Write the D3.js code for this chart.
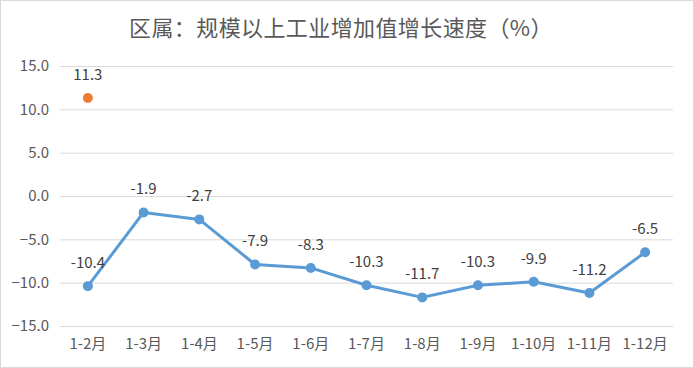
<!DOCTYPE html>
<html><head><meta charset="utf-8">
<script src="https://cdn.jsdelivr.net/npm/d3@7"></script>
<style>body{margin:0;background:#fff}svg{display:block}</style>
</head><body>
<svg id="c" width="694" height="368"></svg>
<script>
const categories = ["1-2月","1-3月","1-4月","1-5月","1-6月","1-7月","1-8月","1-9月","1-10月","1-11月","1-12月"];
const growth = [-10.4,-1.9,-2.7,-7.9,-8.3,-10.3,-11.7,-10.3,-9.9,-11.2,-6.5];
const extraCategory = ["1-2月"];
const extraValue = [11.3];
const yTicks = [15,10,5,0,-5,-10,-15];
const title = "区属：规模以上工业增加值增长速度（%）";

const svg = d3.select("#c");
const font = "'Microsoft YaHei','Noto Sans CJK SC','Noto Sans',sans-serif";
svg.append("rect").attr("x",0.5).attr("y",0.5).attr("width",693).attr("height",367)
  .attr("fill","#fff").attr("stroke","#d9d9d9");

const x = d3.scaleBand().domain(categories).range([60,673]);
const y = d3.scaleLinear().domain([-15,15]).range([326,66]);

svg.append("text").attr("x",341).attr("y",36).attr("text-anchor","middle")
  .attr("font-family",font).attr("font-size",22).attr("letter-spacing",0.4)
  .attr("fill","#595959").text(title);

const yAxis = svg.append("g").attr("transform","translate(60,0)")
  .call(d3.axisLeft(y).tickValues(yTicks).tickSize(-613).tickFormat(d3.format(".1f")));
yAxis.select(".domain").remove();
yAxis.selectAll("line").attr("stroke","#d9d9d9");
yAxis.selectAll("text").attr("x",-11).attr("font-family",font).attr("font-size",15).attr("fill","#595959");

const xAxis = svg.append("g").attr("transform","translate(0,326)")
  .call(d3.axisBottom(x).tickSize(0).tickPadding(12));
xAxis.select(".domain").attr("stroke","#d9d9d9");
xAxis.selectAll("text").attr("font-family",font).attr("font-size",15).attr("fill","#595959");

const cx = d => x(d) + x.bandwidth()/2;
const line = d3.line().x((d,i)=>cx(categories[i])).y(d=>y(d));
svg.append("path").datum(growth).attr("d",line).attr("fill","none")
  .attr("stroke","#5B9BD5").attr("stroke-width",3).attr("stroke-linejoin","round");
svg.selectAll("circle.g").data(growth).enter().append("circle")
  .attr("cx",(d,i)=>cx(categories[i])).attr("cy",d=>y(d)).attr("r",5).attr("fill","#5B9BD5");
svg.selectAll("text.g").data(growth).enter().append("text")
  .attr("x",(d,i)=>cx(categories[i])).attr("y",d=>y(d)-18).attr("text-anchor","middle")
  .attr("font-family",font).attr("font-size",15).attr("fill","#404040").text(d=>d.toFixed(1));

svg.selectAll("circle.e").data(extraValue).enter().append("circle")
  .attr("cx",(d,i)=>cx(extraCategory[i])).attr("cy",d=>y(d)).attr("r",5).attr("fill","#ED7D31");
svg.selectAll("text.e").data(extraValue).enter().append("text")
  .attr("x",(d,i)=>cx(extraCategory[i])).attr("y",d=>y(d)-18).attr("text-anchor","middle")
  .attr("font-family",font).attr("font-size",15).attr("fill","#404040").text(d=>d.toFixed(1));
</script>
</body></html>
